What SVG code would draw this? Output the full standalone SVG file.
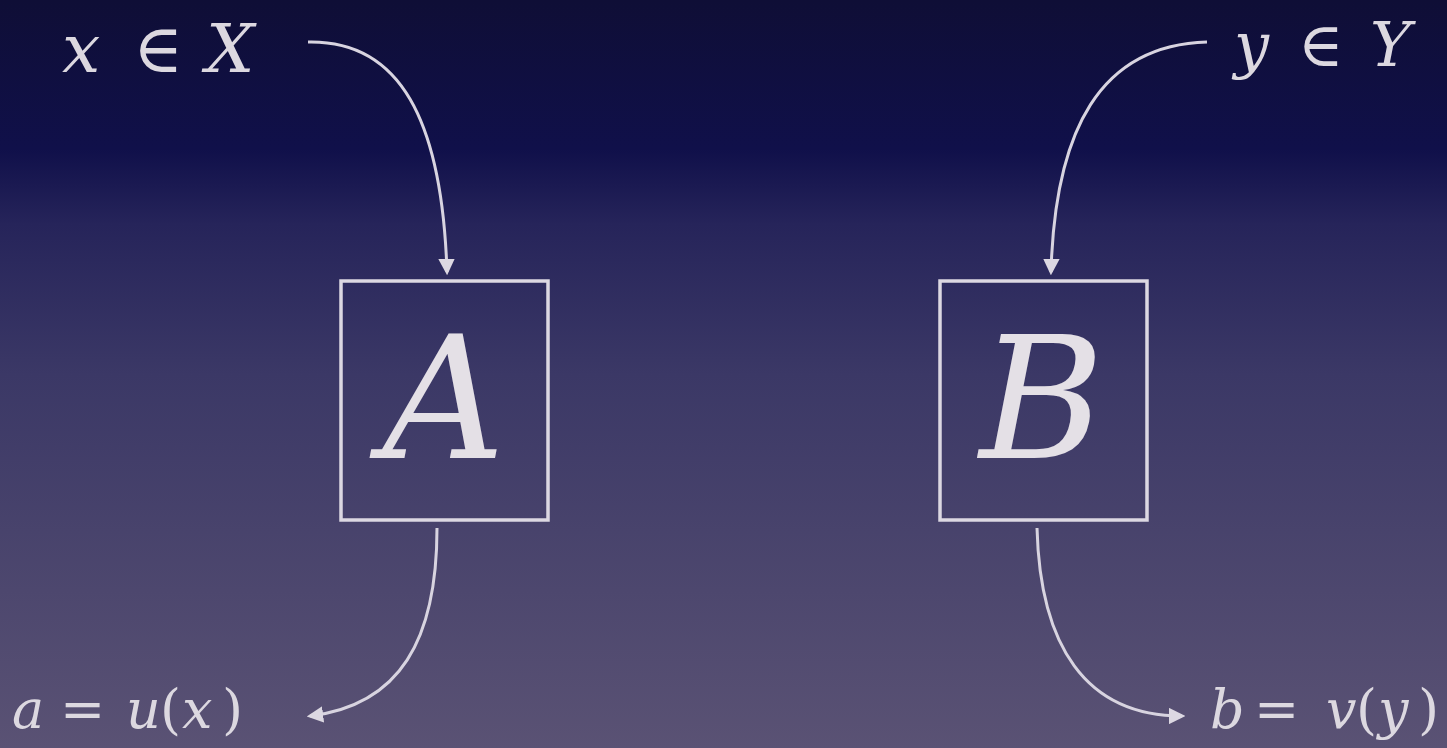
<svg xmlns="http://www.w3.org/2000/svg" width="1447" height="748" viewBox="0 0 1447 748">
<defs>
<linearGradient id="bg" x1="0" y1="0" x2="0" y2="1">
<stop offset="0" stop-color="#0f0e36"/>
<stop offset="0.2" stop-color="#10104a"/>
<stop offset="0.3" stop-color="#26245a"/>
<stop offset="0.5" stop-color="#3b3866"/>
<stop offset="1" stop-color="#5a5274"/>
</linearGradient>
<marker id="ah" viewBox="0 0 10 10" refX="8" refY="5" markerWidth="5.5" markerHeight="5.5" orient="auto" markerUnits="strokeWidth">
<path d="M0,0 L10,5 L0,10 Z" fill="#dcd8e2"/>
</marker>
<style>
.box{fill:none;stroke:#dcd8e2;stroke-width:3.5}
.conn{fill:none;stroke:#d8d4e0;stroke-width:3;marker-end:url(#ah)}
.math{font-family:"DejaVu Serif",serif;font-style:italic;fill:#dcd8e0}
.rm{font-style:normal}
.big{font-family:"DejaVu Serif",serif;font-style:italic;fill:#e4e0e6;text-anchor:middle}
</style>
</defs>
<rect x="0" y="0" width="1447" height="748" fill="url(#bg)"/>
<g id="connectors">
<path class="conn" d="M308 42 C400 40, 442 120, 447 272"/>
<path class="conn" d="M1207 42 C1100 45, 1055 130, 1051 272"/>
<path class="conn" d="M437 528 C437 640, 400 705, 310 716"/>
<path class="conn" d="M1037 528 C1040 645, 1085 716, 1182 716"/>
</g>
<g id="nodeA">
<rect class="box" x="341" y="281" width="207" height="239"/>
<text class="big" x="444" y="458" font-size="170">A</text>
</g>
<g id="nodeB">
<rect class="box" x="940" y="281" width="207" height="239"/>
<text class="big" x="1042" y="458" font-size="170">B</text>
</g>
<g id="inX">
<text class="math" x="62" y="72" font-size="68">x<tspan class="rm" x="133">∈</tspan><tspan x="206">X</tspan></text>
</g>
<g id="inY">
<text class="math" x="1234" y="66" font-size="62">y<tspan class="rm" x="1298">∈</tspan><tspan x="1370">Y</tspan></text>
</g>
<g id="outA">
<text class="math" x="12" y="728" font-size="54">a<tspan class="rm" x="60">=</tspan><tspan x="126">u</tspan><tspan class="rm" x="160">(</tspan><tspan x="182">x</tspan><tspan class="rm" x="222">)</tspan></text>
</g>
<g id="outB">
<text class="math" x="1210" y="728" font-size="54">b<tspan class="rm" x="1254">=</tspan><tspan x="1326">v</tspan><tspan class="rm" x="1356">(</tspan><tspan x="1378">y</tspan><tspan class="rm" x="1418">)</tspan></text>
</g>
</svg>
